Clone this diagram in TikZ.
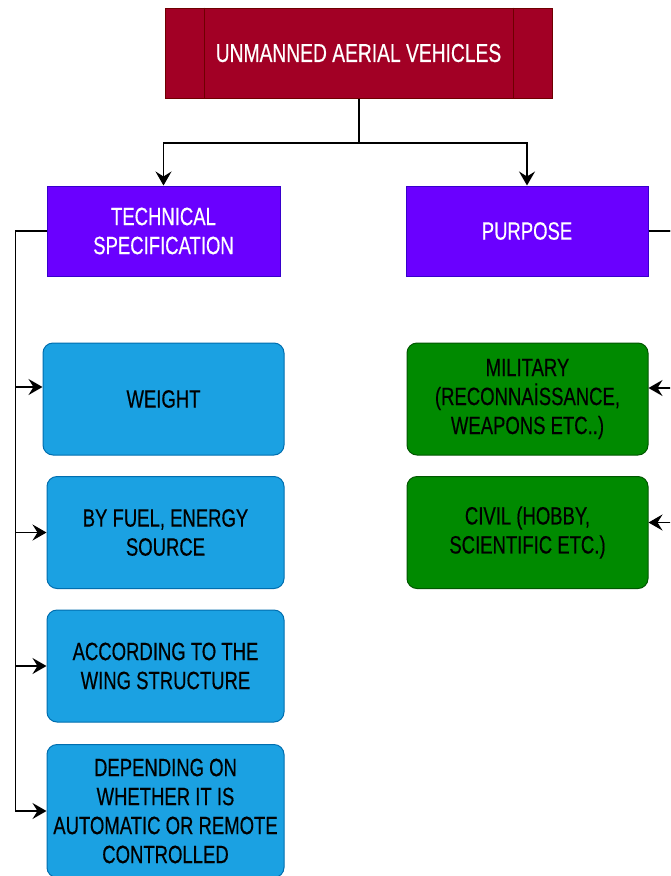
\documentclass[tikz,border=0pt]{standalone}
\usepackage{fontspec}
\setmainfont{Liberation Sans}[FakeStretch=0.74,FakeBold=0.4]
\usetikzlibrary{arrows.meta}
\definecolor{topfill}{HTML}{A20025}
\definecolor{topdraw}{HTML}{6F0000}
\definecolor{vfill}{HTML}{6A00FF}
\definecolor{vdraw}{HTML}{3700CC}
\definecolor{bfill}{HTML}{1BA1E2}
\definecolor{bdraw}{HTML}{006EAF}
\definecolor{gfill}{HTML}{008A00}
\definecolor{gdraw}{HTML}{005700}
\begin{document}
\begin{tikzpicture}[x=1pt,y=-1pt,
  every node/.style={font=\fontsize{25}{29}\selectfont, align=center, inner sep=0pt},
  topbox/.style={draw=topdraw, fill=topfill, text=white, line width=1pt, minimum width=387pt, minimum height=90pt, font=\fontsize{26}{30}\selectfont},
  vbox/.style={draw=vdraw, fill=vfill, text=white, line width=1pt, minimum width=233pt, minimum height=90pt},
  bbox/.style={draw=bdraw, fill=bfill, text=black, line width=1pt, rounded corners=10pt, minimum height=112pt},
  gbox/.style={draw=gdraw, fill=gfill, text=black, line width=1pt, rounded corners=10pt, minimum width=241pt, minimum height=112pt},
  arr/.style={draw=black, line width=1.6pt, -{Stealth[length=14pt,width=16pt,inset=5pt]}},
  ln/.style={draw=black, line width=1.6pt}]
\useasboundingbox (0,0) rectangle (670,876);
\clip (0,0) rectangle (670,876);
\fill[white] (0,0) rectangle (670,876);

\node[topbox] (uav) at (358.5,53) {UNMANNED AERIAL VEHICLES};
\draw[topdraw, line width=1pt] ([xshift=40pt]uav.north west) -- ([xshift=40pt]uav.south west);
\draw[topdraw, line width=1pt] ([xshift=-39pt]uav.north east) -- ([xshift=-39pt]uav.south east);

\node[vbox] (tech) at (163.5,231) {TECHNICAL\\SPECIFICATION};
\node[vbox, minimum width=242pt] (purp) at (527,231) {PURPOSE};

\node[bbox, minimum width=241pt] (w1) at (163.5,399) {WEIGHT};
\node[bbox, minimum width=237pt] (w2) at (165.5,532.5) {BY FUEL, ENERGY\\SOURCE};
\node[bbox, minimum width=237pt] (w3) at (165.5,666) {ACCORDING TO THE\\WING STRUCTURE};
\node[bbox, minimum width=237pt, minimum height=133pt] (w4) at (165.5,811) {DEPENDING ON\\WHETHER IT IS\\AUTOMATIC OR REMOTE\\CONTROLLED};

\node[gbox] (mil) at (527.5,399) {MILITARY\\(RECONNAİSSANCE,\\WEAPONS ETC..)};
\node[gbox] (civ) at (527.5,532.5) {CIVIL (HOBBY,\\SCIENTIFIC ETC.)};

\coordinate (j) at (359,143);
\draw[ln] (uav.south -| j) -- (j);
\draw[arr] (j) -| (tech.north);
\draw[arr] (j) -| (purp.north);

\draw[arr] (tech.west) -- ++(-31,0) |- ([yshift=12pt]w1.west);
\draw[arr] (tech.west) -- ++(-31,0) |- (w2.west);
\draw[arr] (tech.west) -- ++(-31,0) |- (w3.west);
\draw[arr] (tech.west) -- ++(-31,0) |- (w4.west);

\draw[arr] (purp.east) -- ++(40,0) |- ([yshift=11pt]mil.east);
\draw[arr] (purp.east) -- ++(40,0) |- ([yshift=10pt]civ.east);
\end{tikzpicture}
\end{document}
